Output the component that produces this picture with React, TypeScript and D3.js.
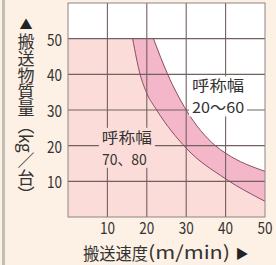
import React, { useEffect, useRef } from 'react';
import * as d3 from 'd3';

const xTicks = [10, 20, 30, 40, 50];
const yTicks = [10, 20, 30, 40, 50];

// 呼称幅 70、80 : [搬送速度 m/min, 搬送物質量 kg/台]
const innerCurve: [number, number][] = [
  [16.4, 50], [18.3, 40], [20, 34.7], [22.5, 30], [30, 19.3], [40, 10.7], [50, 4.4],
];
// 呼称幅 20～60
const outerCurve: [number, number][] = [
  [21.7, 50], [25.3, 40], [30, 30], [37.4, 20], [40, 17.9], [50, 12.8],
];

const yTitle = '搬送物質量（kg／台）';
const xTitle = ['搬送速度', '(m/min)'];
const labelOuter = ['呼称幅', '20～60'];
const labelInner = ['呼称幅', '70、80'];

const FONT = '"Noto Sans CJK JP", "Noto Sans", sans-serif';

const Chart = ({ width = 276, height = 265 }) => {
  const ref = useRef<SVGSVGElement>(null);

  useEffect(() => {
    const svg = d3.select(ref.current);
    svg.selectAll('*').remove();
    svg.attr('width', width).attr('height', height);

    const x = d3.scaleLinear().domain([0, 50]).range([68, 265]);
    const y = d3.scaleLinear().domain([0, 60]).range([217, 3]);

    svg.append('rect').attr('width', width).attr('height', height).attr('fill', '#fdf0e4');
    svg.append('rect').attr('x', 2).attr('y', 0).attr('width', 3).attr('height', height).attr('fill', '#c2beb6');

    // plot background
    svg.append('rect')
      .attr('x', x(0)).attr('y', y(60))
      .attr('width', x(50) - x(0)).attr('height', y(0) - y(60))
      .attr('fill', '#ffffff');

    const line = d3.line<[number, number]>()
      .x(d => x(d[0]))
      .y(d => y(d[1]))
      .curve(d3.curveMonotoneX);

    const innerD = line(innerCurve) as string;
    const outerRev = (line([...outerCurve].reverse()) as string).replace(/^M/, 'L');
    const last = outerCurve[outerCurve.length - 1];

    svg.append('path')
      .attr('d', `M${x(0)},${y(0)}L${x(0)},${y(50)}` + innerD.replace(/^M/, 'L') + `L${x(50)},${y(0)}Z`)
      .attr('fill', '#fbdcd8');

    svg.append('path')
      .attr('d', innerD + `L${x(last[0])},${y(last[1])}` + outerRev + 'Z')
      .attr('fill', '#f4b6c9');

    const grid = svg.append('g').attr('stroke', '#736060').attr('stroke-width', 1.1);
    grid.selectAll('line.v').data(xTicks.slice(0, -1)).enter().append('line')
      .attr('x1', d => x(d)).attr('x2', d => x(d))
      .attr('y1', y(0)).attr('y2', y(60));
    grid.selectAll('line.h').data(yTicks).enter().append('line')
      .attr('x1', x(0)).attr('x2', x(50))
      .attr('y1', d => y(d)).attr('y2', d => y(d));

    svg.append('g').selectAll('path').data([innerCurve, outerCurve]).enter().append('path')
      .attr('d', d => line(d) as string)
      .attr('fill', 'none')
      .attr('stroke', '#86505e')
      .attr('stroke-width', 1);

    svg.append('rect')
      .attr('x', x(0)).attr('y', y(60))
      .attr('width', x(50) - x(0)).attr('height', y(0) - y(60))
      .attr('fill', 'none').attr('stroke', '#8e8484').attr('stroke-width', 1);

    // labels: two lines, background box hides grid
    const addLabel = (lines: string[], px: number, py: number, widths: number[], bg: string) => {
      const g = svg.append('g');
      const rect = g.append('rect').attr('fill', bg);
      const t = g.append('text')
        .attr('font-family', FONT).attr('font-size', 15)
        .attr('fill', '#333');
      lines.forEach((s, i) => {
        t.append('tspan')
          .attr('x', x(px)).attr('y', y(py) + i * 22)
          .attr('textLength', widths[i]).attr('lengthAdjust', 'spacingAndGlyphs')
          .text(s);
      });
      const b = (t.node() as SVGTextElement).getBBox();
      rect.attr('x', b.x - 3).attr('y', b.y + 2).attr('width', b.width + 6).attr('height', b.height - 3);
    };
    addLabel(labelOuter, 31.5, 35.2, [52, 52], '#ffffff');
    addLabel(labelInner, 8.6, 20.8, [50, 45], '#fbdcd8');

    // tick labels
    svg.append('g').selectAll('text').data(xTicks).enter().append('text')
      .attr('x', d => x(d)).attr('y', 234)
      .attr('text-anchor', 'middle')
      .attr('font-family', FONT).attr('font-size', 16).attr('fill', '#333')
      .attr('textLength', 15).attr('lengthAdjust', 'spacingAndGlyphs')
      .text(d => d);
    svg.append('g').selectAll('text').data(yTicks).enter().append('text')
      .attr('x', 62).attr('y', d => y(d) + 7)
      .attr('text-anchor', 'end')
      .attr('font-family', FONT).attr('font-size', 16).attr('fill', '#333')
      .attr('textLength', 15).attr('lengthAdjust', 'spacingAndGlyphs')
      .text(d => d);

    // x title
    svg.append('text').attr('x', 83).attr('y', 260)
      .attr('font-family', FONT).attr('font-size', 17).attr('fill', '#333')
      .attr('textLength', 65).attr('lengthAdjust', 'spacingAndGlyphs')
      .text(xTitle[0]);
    svg.append('text').attr('x', 148).attr('y', 259)
      .attr('font-family', FONT).attr('font-size', 18).attr('fill', '#333')
      .attr('textLength', 82).attr('lengthAdjust', 'spacingAndGlyphs')
      .text(xTitle[1]);
    svg.append('text').attr('x', 242).attr('y', 258)
      .attr('text-anchor', 'middle')
      .attr('font-family', FONT).attr('font-size', 13).attr('fill', '#222')
      .text('▶');

    // y title, vertical writing
    svg.append('text').attr('x', 26).attr('y', 23)
      .attr('text-anchor', 'middle').attr('dominant-baseline', 'central')
      .attr('font-family', FONT).attr('font-size', 13).attr('fill', '#222')
      .text('▲');
    svg.append('text')
      .attr('x', 26).attr('y', 33)
      .attr('writing-mode', 'vertical-rl')
      .attr('font-family', FONT).attr('font-size', 17).attr('fill', '#333')
      .attr('textLength', 170).attr('lengthAdjust', 'spacing')
      .text(yTitle);
  });

  return <svg ref={ref} style={{ position: 'absolute', left: 0, top: 0 }}></svg>;
};

export default function App() {
  return <Chart />;
}
